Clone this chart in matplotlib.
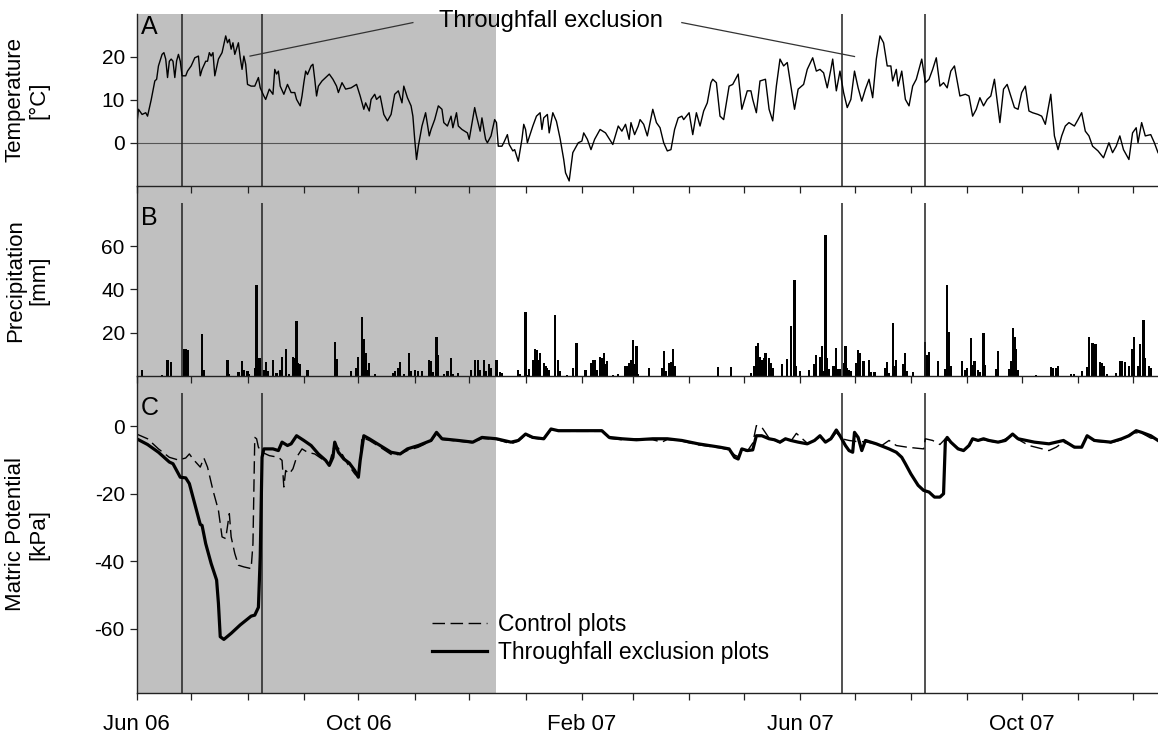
import numpy as np
import matplotlib
matplotlib.use("Agg")
import matplotlib.pyplot as plt
import matplotlib.dates as mdates
from datetime import datetime

plt.rcParams['font.family'] = ['Liberation Sans', 'DejaVu Sans']
plt.rcParams['axes.unicode_minus'] = False

# all series are given as day number counted from 1 Jun 2006
START = datetime(2006, 6, 1)

temp_day = [0, 1, 3, 5, 6, 8, 10, 11, 12, 14, 15, 16, 17, 18, 19, 20, 21, 22, 23, 24, 25, 27, 28, 30,
            32, 34, 35, 36, 38, 39, 40, 41, 42, 43, 45, 47, 49, 50, 51, 52, 53, 54, 56, 57, 58, 59,
            60, 61, 63, 65, 67, 68, 70, 71, 73, 75, 76, 77, 78, 79, 81, 83, 85, 87, 88, 90, 91, 92,
            93, 94, 96, 97, 98, 99, 100, 102, 104, 106, 108, 110, 111, 113, 115, 118, 121, 123, 125,
            126, 128, 129, 131, 132, 134, 136, 138, 140, 142, 144, 146, 147, 149, 151, 152, 153, 154,
            155, 157, 159, 161, 162, 164, 166, 168, 169, 171, 173, 174, 176, 177, 179, 182, 183, 186,
            187, 189, 190, 192, 193, 195, 197, 198, 199, 201, 202, 204, 205, 207, 208, 210, 212, 213,
            214, 215, 218, 220, 222, 223, 224, 226, 227, 229, 231, 233, 235, 236, 238, 240, 243, 245,
            246, 248, 250, 252, 255, 258, 262, 265, 267, 269, 271, 272, 274, 276, 277, 279, 281, 284,
            286, 288, 290, 292, 294, 296, 298, 300, 301, 304, 306, 308, 310, 312, 314, 316, 317, 319,
            321, 323, 326, 328, 331, 333, 336, 338, 339, 341, 343, 346, 348, 350, 352, 354, 356, 358,
            360, 362, 364, 367, 369, 372, 374, 376, 378, 380, 382, 383, 385, 387, 389, 391, 393, 395,
            397, 399, 401, 403, 405, 407, 409, 411, 413, 415, 416, 418, 419, 421, 423, 425, 427, 429,
            432, 434, 436, 438, 440, 442, 444, 446, 448, 450, 453, 456, 458, 460, 462, 464, 466, 468,
            470, 472, 475, 477, 479, 481, 483, 485, 487, 489, 491, 493, 496, 498, 500, 503, 505, 507,
            509, 511, 513, 516, 518, 520, 522, 524, 526, 529, 532, 535, 537, 539, 541, 543, 546, 548,
            550, 551, 553, 555, 558, 560, 562]
temp_val = [3.9, 7.8, 6.6, 7.0, 6.2, 10.0, 14.4, 14.8, 17.9, 20.6, 21.0, 19.5, 15.2, 19.0, 19.5, 19.0,
            15.2, 19.1, 20.6, 19.0, 15.6, 15.6, 16.7, 17.9, 19.8, 20.2, 15.6, 17.1, 19.0, 19.0, 21.0,
            20.2, 21.0, 15.6, 19.5, 21.0, 24.9, 23.3, 24.1, 21.8, 23.3, 20.6, 23.3, 19.8, 17.1, 20.2,
            18.3, 13.6, 13.2, 13.2, 15.2, 12.8, 10.9, 10.1, 12.5, 11.3, 17.1, 16.0, 16.7, 13.2, 11.3,
            13.6, 11.7, 11.7, 10.1, 8.6, 10.9, 14.0, 16.7, 15.9, 17.9, 18.3, 14.8, 10.9, 13.2, 14.4,
            15.2, 16.0, 14.8, 13.2, 11.7, 14.0, 12.5, 12.8, 13.6, 10.9, 7.8, 9.3, 7.4, 10.1, 11.3,
            10.1, 10.9, 6.6, 5.1, 6.6, 11.3, 12.1, 9.3, 13.2, 10.5, 8.6, 6.2, 0.8, -3.9, -0.8, 3.9,
            7.0, 1.6, 3.1, 5.4, 8.6, 7.8, 4.7, 3.9, 6.2, 3.5, 7.0, 3.9, 3.1, 2.3, 0.8, 8.2, 6.2, 2.7,
            5.8, 0.8, 0.0, 1.6, 5.4, 4.7, -0.8, -0.8, 0.0, 1.9, -0.4, -1.9, -1.6, -4.3, 0.8, 4.3, 3.1,
            0.0, 3.9, 6.2, 7.0, 3.1, 5.8, 6.6, 2.3, 7.0, 5.0, 1.0, -3.9, -7.0, -8.9, -2.3, 0.0, 0.4,
            2.3, 0.8, -1.6, 0.8, 3.1, 2.3, -0.4, 3.9, 2.7, 4.3, 0.8, 4.7, 1.9, 3.9, 5.4, 4.3, 1.6,
            7.8, 4.7, 3.5, 0.0, -1.9, -1.6, 3.1, 5.8, 6.2, 5.4, 7.0, 1.9, 7.0, 3.9, 7.4, 9.3, 14.0,
            14.8, 14.0, 6.2, 5.4, 13.2, 13.6, 16.0, 7.8, 12.1, 12.1, 10.1, 7.0, 14.4, 14.8, 7.8, 5.1,
            13.2, 19.5, 17.9, 18.7, 13.2, 7.8, 12.5, 13.6, 17.1, 19.8, 16.7, 17.1, 16.3, 12.8, 17.1,
            19.5, 12.1, 16.7, 11.7, 8.2, 10.1, 16.7, 12.8, 9.7, 12.5, 14.8, 10.5, 19.5, 24.9, 23.3,
            17.9, 17.9, 14.4, 17.1, 13.2, 16.7, 10.1, 8.6, 13.2, 14.8, 19.5, 14.0, 14.8, 17.1, 19.8,
            13.2, 14.0, 12.8, 16.7, 17.9, 10.9, 11.3, 10.9, 6.2, 7.8, 10.5, 8.6, 10.1, 10.9, 14.8,
            4.7, 12.5, 13.6, 10.9, 8.2, 7.8, 11.7, 13.2, 7.4, 7.0, 6.6, 6.2, 4.3, 11.3, 1.6, -1.6,
            1.6, 3.9, 4.7, 3.9, 5.4, 7.0, 2.7, 1.6, -0.8, -1.9, -3.5, 0.0, -2.3, -0.8, 1.6, -1.6,
            -3.9, 2.3, 3.5, 0.0, 4.7, 1.6, 1.9, 0.0, -2.3]

prec_day = [0, 3, 14, 17, 19, 26, 27, 28, 36, 37, 50, 51, 56, 58, 59, 61, 62, 65, 66, 67, 68, 70, 71,
            72, 75, 77, 79, 80, 82, 84, 86, 87, 88, 89, 90, 94, 109, 110, 118, 121, 122, 124, 125,
            126, 127, 128, 131, 141, 142, 144, 145, 147, 150, 151, 153, 155, 157, 161, 162, 163, 165,
            166, 169, 171, 173, 174, 177, 184, 186, 188, 189, 191, 192, 194, 195, 198, 200, 201, 210,
            211, 214, 215, 216, 218, 219, 220, 221, 222, 224, 225, 226, 227, 230, 232, 233, 237, 240,
            242, 247, 250, 251, 252, 253, 255, 256, 257, 258, 259, 262, 265, 269, 270, 271, 272, 273,
            274, 275, 276, 282, 289, 290, 291, 293, 294, 295, 296, 320, 327, 338, 340, 341, 342, 343,
            344, 345, 346, 348, 349, 350, 355, 358, 360, 362, 363, 365, 370, 373, 374, 376, 377, 378,
            379, 380, 381, 383, 384, 385, 386, 387, 389, 390, 391, 392, 393, 396, 397, 398, 400, 403,
            404, 406, 412, 413, 414, 416, 417, 418, 422, 423, 424, 427, 434, 435, 436, 441, 445, 446,
            447, 448, 454, 456, 457, 459, 460, 461, 463, 464, 466, 467, 473, 474, 480, 481, 482, 483,
            484, 485, 495, 503, 504, 506, 507, 514, 516, 520, 523, 524, 526, 527, 528, 530, 531, 532,
            534, 539, 541, 542, 544, 546, 548, 549, 551, 552, 554, 555, 557, 558]
prec_val = [3.6, 2.5, 0.5, 7.2, 6.2, 12.2, 12.2, 11.9, 19.2, 2.8, 7.2, 1.0, 1.6, 6.6, 2.5, 2.0, 1.0,
            3.6, 42.2, 8.4, 8.1, 2.8, 6.2, 2.0, 7.2, 1.2, 2.8, 8.8, 12.2, 1.0, 8.8, 8.4, 25.5, 5.9,
            5.6, 2.5, 15.6, 7.8, 2.3, 3.6, 8.8, 27.2, 16.9, 10.6, 2.8, 5.9, 0.8, 1.2, 2.0, 3.6, 6.2,
            0.8, 10.6, 2.3, 2.8, 2.3, 2.0, 7.2, 6.7, 1.5, 18.1, 9.5, 0.8, 2.0, 8.3, 0.8, 1.2, 2.8,
            7.2, 7.2, 2.8, 7.2, 2.0, 5.2, 3.6, 7.5, 1.6, 1.2, 2.8, 1.0, 29.7, 0.5, 3.1, 7.5, 12.2,
            11.9, 7.5, 10.6, 5.9, 4.4, 3.6, 2.5, 28.3, 7.5, 2.0, 0.5, 3.6, 15.3, 2.8, 5.9, 7.5, 7.2,
            2.8, 8.8, 8.3, 10.6, 5.2, 6.7, 0.5, 0.8, 4.4, 4.4, 5.9, 7.5, 16.6, 5.2, 13.8, 0.8, 3.6,
            3.6, 11.4, 2.0, 5.9, 6.2, 12.5, 4.4, 4.1, 4.1, 1.2, 4.4, 13.8, 15.3, 8.6, 7.5, 8.3, 10.3,
            8.0, 5.9, 3.6, 5.5, 7.8, 22.8, 44.2, 4.4, 2.0, 2.5, 5.2, 9.5, 8.8, 13.8, 2.0, 65.3, 8.3,
            3.0, 4.4, 4.4, 13.0, 3.1, 3.1, 5.9, 13.8, 3.6, 2.8, 2.0, 5.9, 11.9, 10.6, 6.7, 7.2, 1.5,
            1.5, 3.6, 6.2, 1.2, 24.4, 4.4, 7.2, 5.2, 10.6, 2.0, 1.6, 15.8, 9.8, 10.9, 6.6, 3.1, 42.2,
            20.3, 4.4, 6.7, 2.8, 3.4, 17.5, 5.0, 7.0, 2.8, 1.5, 20.0, 5.0, 3.1, 11.4, 3.1, 6.7, 22.0,
            17.7, 12.2, 2.8, 0.5, 4.1, 3.6, 3.6, 4.7, 0.8, 0.8, 2.0, 4.1, 17.7, 15.3, 14.5, 14.5, 6.2,
            5.9, 4.4, 1.0, 1.2, 6.7, 6.7, 6.2, 4.4, 12.2, 17.7, 4.4, 14.5, 25.8, 8.3, 4.4, 3.6]

tfe_day = [0, 6, 12, 18, 20, 22, 24, 27, 29, 31, 33, 35, 36, 38, 41, 44, 45, 46, 48, 52, 57, 63, 65,
           67, 68, 69, 70, 75, 78, 80, 83, 85, 88, 92, 96, 100, 104, 106, 108, 109, 111, 114, 117,
           120, 122, 123, 125, 128, 134, 140, 145, 149, 155, 162, 165, 168, 177, 185, 190, 198, 206,
           210, 214, 218, 224, 228, 232, 243, 256, 260, 267, 275, 284, 292, 300, 309, 321, 326, 329,
           331, 333, 336, 339, 341, 344, 348, 351, 354, 357, 360, 364, 369, 373, 376, 379, 382, 385,
           387, 390, 392, 394, 395, 397, 399, 401, 407, 414, 418, 421, 423, 426, 430, 433, 436, 439,
           442, 444, 445, 446, 448, 452, 455, 458, 460, 463, 466, 469, 474, 478, 482, 485, 494, 502,
           510, 516, 520, 523, 527, 536, 542, 546, 550, 553, 558, 562]
tfe_val = [-3.7, -5.4, -7.7, -10.6, -11.1, -13.1, -15.1, -15.3, -17.0, -21.0, -24.9, -29.1, -29.4,
           -34.8, -40.7, -45.6, -52.5, -62.4, -63.2, -61.4, -58.9, -56.3, -56.0, -53.7, -38.7, -9.2,
           -6.7, -6.7, -7.2, -4.7, -5.7, -5.2, -2.8, -4.2, -5.7, -8.2, -10.1, -11.6, -9.2, -4.7, -7.7,
           -9.7, -10.9, -13.1, -15.1, -10.1, -2.8, -3.7, -5.7, -7.7, -8.2, -6.7, -5.7, -4.2, -1.8,
           -3.7, -4.2, -4.7, -3.3, -3.7, -4.7, -4.2, -2.3, -3.3, -3.7, -0.8, -1.3, -1.3, -1.3, -3.3,
           -3.7, -4.0, -3.7, -3.7, -4.2, -5.2, -6.2, -6.7, -9.2, -9.7, -6.7, -7.2, -7.0, -2.8, -2.8,
           -3.7, -4.0, -4.7, -3.7, -4.2, -4.7, -5.2, -4.2, -2.8, -4.7, -3.7, -1.1, -2.8, -5.7, -7.2,
           -7.7, -1.8, -3.3, -7.2, -4.2, -5.2, -6.7, -7.7, -9.2, -11.1, -14.1, -17.5, -19.0, -19.5,
           -21.0, -21.0, -20.0, -4.2, -3.3, -4.7, -6.7, -7.2, -5.7, -3.7, -4.2, -3.7, -4.2, -4.7,
           -4.2, -2.3, -3.7, -4.7, -5.2, -4.2, -6.2, -6.2, -2.8, -4.2, -4.7, -3.7, -2.8, -1.3, -1.8,
           -2.8, -4.2]

ctl_day = [0, 6, 12, 18, 23, 27, 29, 31, 35, 37, 39, 42, 45, 47, 49, 51, 52, 54, 56, 59, 63, 64, 65,
           66, 67, 69, 73, 78, 80, 81, 82, 84, 86, 88, 91, 94, 98, 102, 106, 109, 112, 116, 120, 122,
           124, 128, 134, 141, 145, 149, 155, 162, 165, 168, 177, 185, 190, 198, 206, 210, 214, 218,
           224, 228, 232, 243, 256, 260, 267, 275, 284, 289, 292, 300, 309, 321, 326, 329, 331, 333,
           336, 339, 341, 344, 348, 351, 354, 357, 360, 363, 369, 373, 376, 379, 382, 385, 388, 392,
           396, 401, 405, 410, 414, 418, 424, 433, 434, 438, 442, 445, 448, 452, 455, 458, 460, 466,
           474, 482, 485, 491, 502, 506, 510, 516, 520, 523, 527, 536, 542, 548, 553, 558, 562]
ctl_val = [-2.3, -3.7, -6.7, -9.2, -10.0, -9.4, -8.2, -9.7, -12.1, -9.4, -12.1, -19.0, -24.9, -32.8,
           -33.3, -25.9, -32.8, -37.7, -41.2, -41.7, -42.2, -34.8, -3.3, -3.7, -6.2, -7.7, -8.7, -9.2,
           -10.1, -18.0, -13.1, -14.1, -12.6, -9.2, -6.7, -7.7, -8.2, -9.7, -11.1, -5.2, -7.2, -11.1,
           -14.1, -15.1, -3.3, -4.2, -6.2, -8.7, -8.2, -7.2, -6.2, -4.4, -2.2, -3.9, -4.4, -4.9, -3.6,
           -3.9, -5.2, -4.4, -2.6, -3.5, -3.9, -1.0, -1.5, -1.5, -1.5, -3.6, -4.0, -3.7, -4.0, -4.7,
           -3.9, -4.4, -5.5, -6.4, -7.0, -8.5, -9.0, -7.0, -7.4, -5.0, 0.2, -0.3, -3.5, -4.2, -4.9,
           -3.9, -4.4, -2.1, -5.0, -4.4, -3.0, -4.5, -4.0, -1.8, -3.7, -4.2, -4.5, -4.6, -5.0, -5.7,
           -4.2, -5.7, -6.2, -6.7, -3.7, -4.2, -5.4, -3.7, -4.7, -6.5, -7.0, -5.9, -3.9, -4.0, -4.9,
           -2.6, -3.9, -5.7, -7.2, -6.2, -4.7, -6.0, -6.0, -3.0, -4.4, -4.9, -4.0, -1.9, -2.0, -3.5,
           -3.7]

exclusion_starts = ['2006-06-26', '2007-06-24']
exclusion_ends = ['2006-08-09', '2007-08-09']
shade_until = '2006-12-16'
x_end = '2007-12-15'


def days_to_x(days):
    return mdates.date2num(START) + np.asarray(days, dtype=float)


def main():
    x0 = mdates.date2num(START)
    x1 = mdates.date2num(datetime.fromisoformat(x_end))
    shade_x = mdates.date2num(datetime.fromisoformat(shade_until))
    marks = [mdates.date2num(datetime.fromisoformat(d)) for d in exclusion_starts + exclusion_ends]

    fig = plt.figure(figsize=(11.58, 7.38), dpi=100)
    left, width = 0.118, 0.882
    axA = fig.add_axes([left, 0.7484, width, 0.2326])
    axB = fig.add_axes([left, 0.4909, width, 0.2575], sharex=axA)
    axC = fig.add_axes([left, 0.0614, width, 0.4295], sharex=axA)

    for z, ax in zip([3, 2, 1], [axA, axB, axC]):
        ax.set_zorder(z)
        ax.patch.set_visible(False)
        ax.axvspan(x0, shade_x, color='#c0c0c0', lw=0, zorder=0)
        for s in ['top', 'right']:
            ax.spines[s].set_visible(False)
        for s in ['left', 'bottom']:
            ax.spines[s].set_linewidth(1.0)
            ax.spines[s].set_color('#222222')
        ax.tick_params(which='both', direction='out', length=5, width=0.9, labelsize=15,
                       color='#222222')

    # A: air temperature
    axA.axhline(0, color='#555555', lw=0.8, zorder=1)
    axA.vlines(marks, 0, 1, transform=axA.get_xaxis_transform(), color='#222222', lw=1.1)
    axA.plot(days_to_x(temp_day), temp_val, color='black', lw=1.0)
    axA.set_ylim(-10, 30)
    axA.set_yticks([0, 10, 20])
    axA.set_ylabel('Temperature\n[°C]', fontsize=16)

    axA.text(days_to_x(228), 28.4, 'Throughfall exclusion', fontsize=17, ha='center', va='center')
    axA.plot(days_to_x([152, 62.4]), [28.0, 20.2], color='#333333', lw=0.9, clip_on=False)
    axA.plot(days_to_x([300, 395]), [28.0, 20.1], color='#333333', lw=0.9, clip_on=False)

    # B: precipitation
    axB.vlines(marks, 0, 80, color='#222222', lw=1.1)
    axB.bar(days_to_x(prec_day), prec_val, width=1.2, color='black', lw=0)
    axB.set_ylim(0, 88)
    axB.set_yticks([20, 40, 60])
    axB.set_ylabel('Precipitation\n[mm]', fontsize=16)

    # C: matric potential
    axC.vlines(marks, -79, 10, color='#222222', lw=1.1)
    axC.plot(days_to_x(ctl_day), ctl_val, color='black', lw=1.0, ls=(0, (9, 4)),
             label='Control plots')
    axC.plot(days_to_x(tfe_day), tfe_val, color='black', lw=2.3, label='Throughfall exclusion plots')
    axC.set_ylim(-79, 15)
    axC.set_yticks([-60, -40, -20, 0])
    axC.set_ylabel('Matric Potential\n[kPa]', fontsize=16)
    axC.legend(loc='upper left', bbox_to_anchor=(0.28, 0.28), frameon=False, fontsize=16.5,
               handlelength=2.4, handletextpad=0.5, labelspacing=0.2, borderaxespad=0)

    for ax, letter, ytop in zip([axA, axB, axC], 'ABC', [0.995, 0.895, 0.935]):
        ax.text(0.004, ytop, letter, transform=ax.transAxes, fontsize=18, ha='left', va='top')
        ax.yaxis.set_label_coords(-0.085, 0.5)

    axC.set_xlim(x0, x1)
    axC.xaxis.set_major_locator(mdates.MonthLocator(bymonth=[2, 6, 10]))
    axC.xaxis.set_major_formatter(mdates.DateFormatter('%b %y'))
    axC.xaxis.set_minor_locator(mdates.MonthLocator())
    axA.tick_params(labelbottom=False)
    axB.tick_params(labelbottom=False)
    axC.tick_params(axis='x', labelsize=16, pad=10)

    fig.savefig('out.png', dpi=100, facecolor='white')


if __name__ == "__main__":
    main()
